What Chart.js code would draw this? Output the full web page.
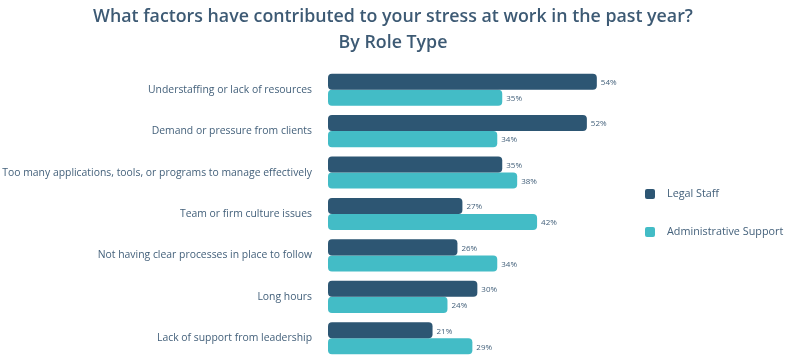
<!DOCTYPE html>
<html>
<head>
<meta charset="utf-8">
<script src="https://cdn.jsdelivr.net/npm/chart.js@4/dist/chart.umd.min.js"></script>
<style>
html,body{margin:0;padding:0;background:#fff;}
#wrap{width:786px;height:360px;position:relative;}
</style>
</head>
<body>
<div id="wrap"><canvas id="c" width="786" height="360"></canvas></div>
<script>
const categories = [
  "Understaffing or lack of resources",
  "Demand or pressure from clients",
  "Too many applications, tools, or programs to manage effectively",
  "Team or firm culture issues",
  "Not having clear processes in place to follow",
  "Long hours",
  "Lack of support from leadership"
];
const legalStaff = [54, 52, 35, 27, 26, 30, 21];
const adminSupport = [35, 34, 38, 42, 34, 24, 29];
const seriesNames = ["Legal Staff", "Administrative Support"];
const titleLines = ["What factors have contributed to your stress at work in the past year?", "By Role Type"];

const DARK = "#2d5673";
const LIGHT = "#43bcc6";
const TEXT = "#44617b";
const FONT = "'Open Sans', 'Noto Sans', sans-serif";

const valueLabels = {
  id: 'valueLabels',
  afterDatasetsDraw(chart) {
    const ctx = chart.ctx;
    ctx.save();
    ctx.font = "8px " + FONT;
    ctx.fillStyle = TEXT;
    ctx.textAlign = 'left';
    ctx.textBaseline = 'middle';
    chart.data.datasets.forEach((ds, di) => {
      const meta = chart.getDatasetMeta(di);
      meta.data.forEach((bar, i) => {
        ctx.fillText(ds.data[i] + '%', bar.x + 4, bar.y + 1);
      });
    });
    ctx.restore();
  }
};

const sideLegend = {
  id: 'sideLegend',
  afterDraw(chart) {
    const ctx = chart.ctx;
    ctx.save();
    ctx.font = "10.8px " + FONT;
    ctx.textBaseline = 'middle';
    ctx.textAlign = 'left';
    const ys = [194, 232];
    chart.data.datasets.forEach((ds, i) => {
      ctx.fillStyle = ds.backgroundColor;
      ctx.beginPath();
      ctx.roundRect(645, ys[i] - 5, 10, 10, 2);
      ctx.fill();
      ctx.fillStyle = TEXT;
      ctx.fillText(ds.label, 667, ys[i]);
    });
    ctx.restore();
  }
};

new Chart(document.getElementById('c'), {
  type: 'bar',
  data: {
    labels: categories,
    datasets: [
      { label: seriesNames[0], data: legalStaff, backgroundColor: DARK },
      { label: seriesNames[1], data: adminSupport, backgroundColor: LIGHT }
    ]
  },
  options: {
    indexAxis: 'y',
    responsive: false,
    animation: false,
    devicePixelRatio: 1,
    layout: { padding: { left: 0, right: 0, top: 0, bottom: 1 } },
    datasets: {
      bar: {
        barPercentage: 1,
        categoryPercentage: 0.775,
        borderRadius: 4,
        borderSkipped: false
      }
    },
    scales: {
      x: {
        display: false,
        min: 0,
        max: 92
      },
      y: {
        grid: { display: false, drawTicks: false },
        border: { display: false },
        ticks: {
          color: TEXT,
          font: { size: 10.4, family: FONT },
          padding: 16
        },
        afterFit(scale) {
          scale.width = 328;
          scale.paddingTop = 0;
          scale.paddingBottom = 0;
        }
      }
    },
    plugins: {
      legend: { display: false },
      tooltip: { enabled: false },
      title: {
        display: true,
        text: titleLines,
        color: "#3d5a74",
        font: { size: 17.8, family: FONT, weight: '600', lineHeight: 1.46 },
        padding: { top: 4, bottom: 13 }
      }
    }
  },
  plugins: [valueLabels, sideLegend]
});
</script>
</body>
</html>
